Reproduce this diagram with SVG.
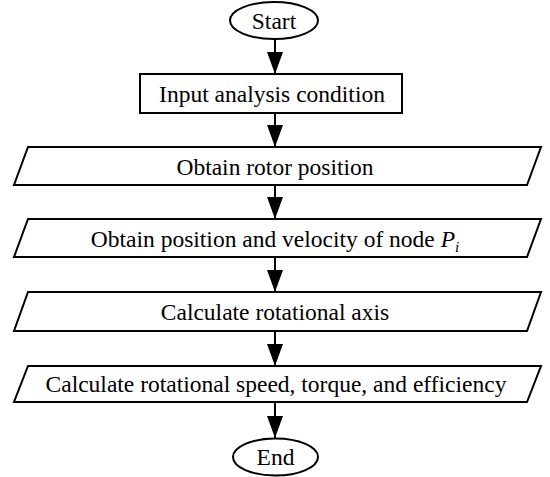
<svg xmlns="http://www.w3.org/2000/svg" width="550" height="477" viewBox="0 0 550 477">
<style>
.s{fill:#fff;stroke:#000;stroke-width:2}
.t{font-family:"Liberation Serif","Times New Roman",serif;font-size:23.5px;fill:#000;text-anchor:middle}
.c{stroke:#000;stroke-width:2;fill:none;marker-end:url(#ah)}
</style>
<defs>
<marker id="ah" markerUnits="userSpaceOnUse" markerWidth="22" markerHeight="16" refX="22" refY="8" orient="auto">
<path d="M0,0 L22,8 L0,16 z" fill="#000"/>
</marker>
</defs>
<g id="connectors">
<line class="c" x1="275" y1="39" x2="275" y2="74"/>
<line class="c" x1="275" y1="113" x2="275" y2="147"/>
<line class="c" x1="275" y1="185" x2="275" y2="219"/>
<line class="c" x1="275" y1="257" x2="275" y2="292"/>
<line class="c" x1="275" y1="331" x2="275" y2="366"/>
<line class="c" x1="275" y1="402" x2="275" y2="438"/>
</g>
<g id="start">
<ellipse class="s" cx="274" cy="20.5" rx="44" ry="18.5"/>
<text class="t" x="274" y="28.5">Start</text>
</g>
<g id="input">
<rect class="s" x="140" y="74" width="262" height="39"/>
<text class="t" x="272" y="101.5">Input analysis condition</text>
</g>
<g id="rotor">
<polygon class="s" points="28,147 541,147 527,185 14,185"/>
<text class="t" x="275" y="174.5">Obtain rotor position</text>
</g>
<g id="node">
<polygon class="s" points="28,219 541,219 527,257 14,257"/>
<text class="t" x="275" y="246.5">Obtain position and velocity of node <tspan font-style="italic">P</tspan><tspan font-style="italic" font-size="15" dy="5">i</tspan></text>
</g>
<g id="axis">
<polygon class="s" points="28,292 541,292 527,331 14,331"/>
<text class="t" x="275" y="319.5">Calculate rotational axis</text>
</g>
<g id="speed">
<polygon class="s" points="28,366 541,366 527,402 14,402"/>
<text class="t" x="276" y="391.5">Calculate rotational speed, torque, and efficiency</text>
</g>
<g id="end">
<ellipse class="s" cx="275.5" cy="457" rx="42.5" ry="18.5"/>
<text class="t" x="275.5" y="465">End</text>
</g>
</svg>
